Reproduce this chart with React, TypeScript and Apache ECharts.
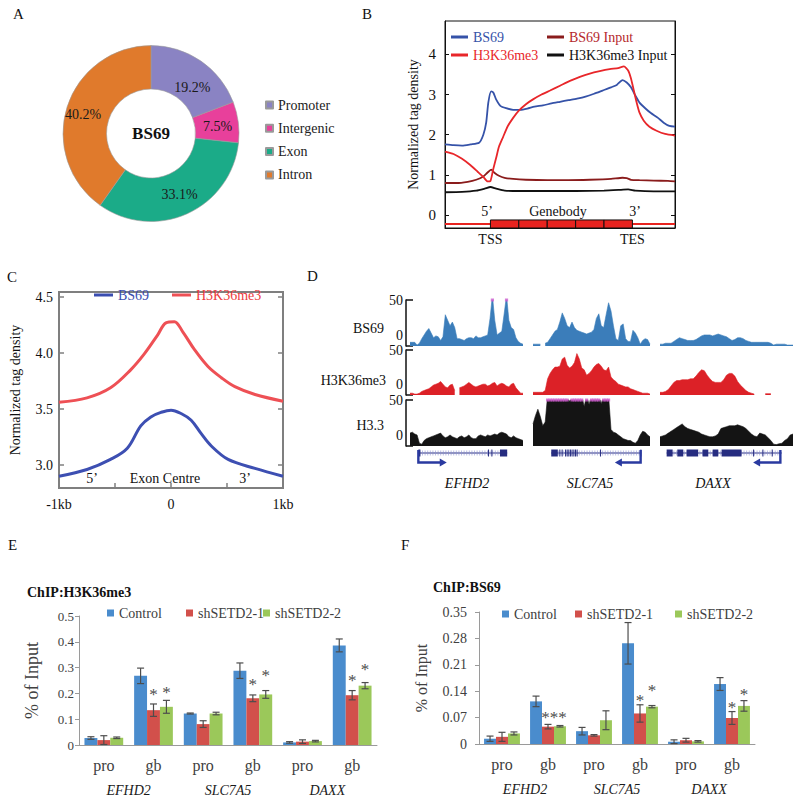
import React, { useEffect, useRef } from 'react';
import * as echarts from 'echarts';

const SERIF = 'Liberation Serif';

// ---------------- Panel A: genomic distribution ----------------
const regionNames = ['Promoter', 'Intergenic', 'Exon', 'Intron'];
const regionPercent = [19.2, 7.5, 33.1, 40.2];
const regionColors = ['#8a83c3', '#e8409b', '#1bab88', '#e07a2c'];
const regionLabelOffsets = [[2, 11], [-2, 2], [0, -2], [-2, 2]];

// ---------------- Panel B: metagene profile ----------------
const bBS69 = [[-32,1.76],[-26,1.74],[-20,1.73],[-14,1.76],[-8,1.8],[-5,2.0],[-3,2.3],[-1.5,2.8],[0.5,3.08],[2,3.05],[4,2.88],[7,2.72],[11,2.66],[16,2.62],[21,2.62],[26,2.65],[31,2.7],[37,2.73],[43,2.78],[49,2.82],[55,2.86],[61,2.9],[67,2.95],[73,3.02],[79,3.1],[85,3.18],[89,3.24],[93,3.36],[96,3.3],[99,3.18],[102,2.98],[105,2.8],[109,2.66],[113,2.54],[118,2.42],[122,2.3],[126,2.22],[130,2.2]];
const bH3K36me3 = [[-32,1.58],[-26,1.52],[-20,1.4],[-14,1.24],[-9,1.08],[-5,0.95],[-2,0.84],[0,0.85],[2,1.15],[4,1.42],[6,1.7],[9,1.95],[12,2.2],[16,2.42],[20,2.6],[25,2.76],[30,2.88],[36,3.0],[42,3.1],[49,3.22],[56,3.34],[63,3.44],[70,3.52],[77,3.58],[84,3.63],[90,3.66],[94,3.7],[97,3.6],[99,3.4],[101,3.1],[103,2.8],[105,2.55],[108,2.35],[112,2.2],[117,2.1],[123,2.02],[130,1.98]];
const bBS69Input = [[-32,0.8],[-24,0.8],[-16,0.83],[-10,0.88],[-5,0.96],[-2,1.06],[0.5,1.13],[3,1.05],[6,0.98],[10,0.93],[16,0.9],[25,0.88],[40,0.87],[55,0.87],[70,0.88],[85,0.9],[93,0.93],[96,0.92],[99,0.88],[105,0.87],[115,0.86],[125,0.85],[130,0.84]];
const bH3K36me3Input = [[-32,0.57],[-20,0.58],[-10,0.61],[-4,0.66],[0,0.7],[4,0.66],[10,0.61],[20,0.6],[40,0.6],[60,0.6],[80,0.61],[92,0.63],[97,0.64],[102,0.61],[115,0.59],[130,0.59]];
const bGeneAxisLine = [[-32,-0.22],[130,-0.22]];
const bGeneBodyBlocks = [[0,20],[20,40],[40,60],[60,80],[80,100]];
const bXLabelValues = [0, 100];
const bXLabelTexts = ['TSS', 'TES'];
const bYTicks = [0, 1, 2, 3, 4];

// ---------------- Panel C: exon-centred profile ----------------
const cH3K36me3 = [[-1000,3.56],[-750,3.6],[-540,3.69],[-360,3.85],[-240,3.99],[-120,4.16],[-45,4.27],[30,4.28],[105,4.19],[210,4.03],[330,3.88],[450,3.78],[570,3.7],[750,3.63],[1000,3.57]];
const cBS69 = [[-1000,2.9],[-750,2.96],[-540,3.05],[-390,3.15],[-270,3.35],[-180,3.43],[-90,3.47],[0,3.49],[90,3.46],[180,3.4],[270,3.28],[360,3.17],[510,3.05],[750,2.97],[1000,2.9]];
const cXLabelValues = [-1000, 0, 1000];
const cXLabelTexts = ['-1kb', '0', '1kb'];
const cYTicks = [3.0, 3.5, 4.0, 4.5];

// ---------------- Panel D: browser tracks ----------------
const trackNames = ['BS69', 'H3K36me3', 'H3.3'];
const geneNames = ['EFHD2', 'SLC7A5', 'DAXX'];
const efhd2BS69 = [4,4,4,1,3,8,12,16,19,14,9,11,10,6,10,34,28,22,26,20,8,8,7,6,8,9,9,8,11,9,9,10,11,12,30,55,28,12,14,16,35,55,28,20,18,9,5,3,2];
const efhd2H3K36me3 = [2,2,1,1,2,4,5,6,7,9,11,12,13,15,12,9,8,11,12,5,null,8,9,10,12,14,12,10,9,10,11,12,12,10,11,13,14,10,12,13,12,10,9,12,13,8,5,2,2];
const efhd2H33 = [14,15,13,12,3,2,6,8,9,10,11,12,13,14,11,9,10,12,10,9,8,10,11,9,10,12,9,8,8,11,12,11,10,12,11,12,13,12,14,15,14,13,10,9,11,9,8,7,6];
const slc7a5BS69 = [2,2,2,2,null,3,4,8,12,16,18,26,36,30,22,20,26,20,17,16,15,14,13,14,15,18,30,35,22,20,34,47,38,22,8,6,22,24,8,5,5,17,14,9,2,6,8,7,2];
const slc7a5H3K36me3 = [3,3,3,3,3,5,18,24,28,31,31,32,40,42,33,30,32,36,46,40,30,28,22,24,27,31,34,35,32,28,27,31,20,17,15,12,11,10,9,9,7,6,5,4,3,2,2,2,1];
const slc7a5H33 = [24,33,40,32,22,26,55,55,55,55,55,55,55,55,55,48,55,55,55,55,55,43,55,45,55,55,55,55,46,55,55,55,18,15,14,12,10,8,7,6,6,4,3,6,12,16,15,12,10];
const daxxBS69 = [2,2,3,3,3,5,7,9,8,7,6,6,6,7,9,11,12,12,12,11,12,13,12,11,10,8,6,7,9,9,8,6,5,4,4,4,4,4,4,4,3,1,2,2,2,2,1,1,1];
const daxxH3K36me3 = [3,3,4,6,10,14,16,16,17,17,17,18,18,21,25,28,27,22,18,15,14,14,14,17,22,24,24,21,15,11,8,5,3,2,1,null,null,null,1.5,1.5,1.5,null,null,null,null,null,null,null,null];
const daxxH33 = [10,11,12,14,16,18,20,22,24,21,19,18,17,16,15,13,12,11,10,10,11,13,19,20,21,22,22,22,23,22,21,19,16,13,11,10,14,13,12,9,6,2,1.5,2.5,3,6,8,12,13];
const trackData = [
  [efhd2BS69, slc7a5BS69, daxxBS69],
  [efhd2H3K36me3, slc7a5H3K36me3, daxxH3K36me3],
  [efhd2H33, slc7a5H33, daxxH33],
];
const trackMax = 50;
// gene models, positions in % of each gene window
const geneSpans = [[7, 86], [15.6, 92.5], [5, 91.5]];
const geneTssArrow = [[7.4, 32.5], [92, 70], [90.5, 70]];
const geneExons = [
  [[7.4, 9.2], [69, 69.8], [72, 72.8], [79.6, 86]],
  [[15.6, 21.2], [22.5, 23.1], [24.5, 25.1], [27.4, 28], [28.8, 29.4], [30.2, 30.8], [31.6, 32.2], [33, 33.6], [34.5, 35.1], [35.9, 36.5], [37.3, 37.9], [57.3, 57.9], [91.8, 92.5]],
  [[5, 9.5], [13, 17.5], [20, 28.7], [32, 36.3], [39.6, 43.8], [46.3, 61.3], [70, 70.5], [77, 77.5], [84, 84.5]],
];

// ---------------- Panels E & F: ChIP-qPCR ----------------
const qpcrRegions = ['pro', 'gb', 'pro', 'gb', 'pro', 'gb'];
const qpcrGenes = ['EFHD2', 'SLC7A5', 'DAXX'];
const qpcrGroups = ['Control', 'shSETD2-1', 'shSETD2-2'];
const eControl = [0.027, 0.268, 0.122, 0.288, 0.010, 0.386];
const eSh1 = [0.019, 0.135, 0.081, 0.181, 0.013, 0.193];
const eSh2 = [0.028, 0.148, 0.122, 0.196, 0.015, 0.230];
const eControlErr = [0.005, 0.030, 0.002, 0.030, 0.003, 0.025];
const eSh1Err = [0.017, 0.024, 0.013, 0.013, 0.007, 0.018];
const eSh2Err = [0.003, 0.025, 0.005, 0.015, 0.003, 0.012];
const eStarPos = [[1, 1, 0.206], [1, 2, 0.217], [3, 1, 0.247], [3, 2, 0.282], [5, 1, 0.260], [5, 2, 0.305]];
const eStarText = ['*', '*', '*', '*', '*', '*'];
const fControl = [0.014, 0.113, 0.034, 0.267, 0.006, 0.159];
const fSh1 = [0.019, 0.046, 0.023, 0.081, 0.010, 0.069];
const fSh2 = [0.028, 0.047, 0.063, 0.099, 0.007, 0.101];
const fControlErr = [0.007, 0.014, 0.010, 0.055, 0.005, 0.017];
const fSh1Err = [0.012, 0.006, 0.002, 0.023, 0.005, 0.017];
const fSh2Err = [0.004, 0.002, 0.025, 0.003, 0.002, 0.014];
const fStarPos = [[1, 1.5, 0.079], [3, 1, 0.123], [3, 2, 0.150], [5, 1, 0.105], [5, 2, 0.140]];
const fStarText = ['***', '*', '*', '*', '*'];

// ---------------- styling ----------------
const BAR_COLORS = ['#4a8ccd', '#d2504b', '#9bc85a'];
const TRACK_COLORS = ['#3b7dba', '#dc2127', '#141414'];
const NAVY = '#262c80';
const BAR_CAT_GAP = 0.22;

function txt(text: string, x: number, y: number, o: any = {}) {
  return {
    type: 'text', x, y, silent: true, z: 100,
    style: {
      text, fontFamily: SERIF, fontSize: o.size || 14, fontWeight: o.weight || 'normal',
      fontStyle: o.style || 'normal', fill: o.color || '#111', align: o.align || 'center',
      verticalAlign: 'middle',
    },
  };
}

function lg(name: string, left: number, top: number, o: any) {
  const item: any = { name };
  if (o.itemColor) item.itemStyle = { color: o.itemColor };
  return {
    data: [item], left, top, padding: 0, selectedMode: false, icon: 'rect',
    itemWidth: o.w, itemHeight: o.h,
    textStyle: { fontFamily: SERIF, fontSize: 14, color: o.color || '#222' },
  };
}

function buildOption() {
  const grid: any[] = [];
  const xAxis: any[] = [];
  const yAxis: any[] = [];
  const series: any[] = [];
  const legend: any[] = [];
  const graphic: any[] = [];

  // ---- A ----
  series.push({
    type: 'pie', center: [151, 133.5], radius: [44.5, 88], startAngle: 90, clockwise: true,
    silent: true, avoidLabelOverlap: false,
    label: { show: true, position: 'inside', formatter: '{c}%', fontFamily: SERIF, fontSize: 14, color: '#1a1a1a' },
    labelLine: { show: false },
    itemStyle: { borderColor: '#9a9a9a', borderWidth: 0.6 },
    data: regionNames.map((n, i) => ({
      name: n, value: regionPercent[i], itemStyle: { color: regionColors[i] },
      label: { offset: regionLabelOffsets[i] },
    })),
  });
  regionNames.forEach((n, i) => legend.push(lg(n, 265, 98 + i * 23.3, { w: 7, h: 7, color: '#222' })));
  graphic.push(txt('BS69', 151, 133.5, { size: 17, weight: 'bold' }));

  // ---- B (grid 0) ----
  grid.push({ left: 445, top: 21, width: 230, height: 207, show: true, borderColor: '#111', borderWidth: 1 });
  xAxis.push({
    gridIndex: 0, type: 'value', min: -32, max: 130,
    axisLine: { onZero: false, lineStyle: { color: '#111' } }, axisTick: { show: false }, splitLine: { show: false },
    axisLabel: { customValues: bXLabelValues, formatter: (v: number) => bXLabelTexts[bXLabelValues.indexOf(v)] ?? '', fontFamily: SERIF, fontSize: 14, color: '#111', margin: 4 },
  });
  yAxis.push({
    gridIndex: 0, type: 'value', min: -0.32, max: 4.83,
    name: 'Normalized tag density', nameLocation: 'middle', nameGap: 25,
    nameTextStyle: { fontFamily: SERIF, fontSize: 14, color: '#111' },
    axisLine: { show: true, onZero: false, lineStyle: { color: '#111' } },
    axisTick: { show: true, inside: true, length: 4, customValues: bYTicks, lineStyle: { color: '#111' } },
    axisLabel: { customValues: bYTicks, fontFamily: SERIF, fontSize: 15, color: '#111', margin: 9 },
    splitLine: { show: false },
  });
  yAxis.push({
    gridIndex: 0, type: 'value', min: -0.32, max: 4.83, position: 'right',
    axisLine: { show: true, onZero: false, lineStyle: { color: '#111' } },
    axisTick: { show: true, inside: true, length: 4, customValues: bYTicks, lineStyle: { color: '#111' } },
    axisLabel: { show: false }, splitLine: { show: false },
  });
  const bLine = (name: string, data: any, color: string) => ({
    type: 'line', name, xAxisIndex: 0, yAxisIndex: 0, data, symbol: 'none', smooth: 0.2,
    lineStyle: { width: 1.8, color }, itemStyle: { color }, z: 3,
  });
  series.push(bLine('BS69', bBS69, '#3552a8'));
  series.push(bLine('BS69 Input', bBS69Input, '#8a1c1c'));
  series.push(bLine('H3K36me3 Input', bH3K36me3Input, '#111111'));
  series.push(bLine('H3K36me3', bH3K36me3, '#e8262a'));
  series.push({
    type: 'line', name: 'gene axis', xAxisIndex: 0, yAxisIndex: 0, data: bGeneAxisLine, symbol: 'none',
    lineStyle: { width: 2, color: '#e8231f' }, z: 2,
  });
  series.push({
    type: 'custom', name: 'genebody', xAxisIndex: 0, yAxisIndex: 0, data: bGeneBodyBlocks, z: 4,
    encode: { x: [0, 1] },
    renderItem: (p: any, api: any) => {
      const a = api.coord([api.value(0), -0.12]);
      const b = api.coord([api.value(1), -0.32]);
      return { type: 'rect', shape: { x: a[0], y: a[1], width: b[0] - a[0], height: b[1] - a[1] }, style: { fill: '#e8231f', stroke: '#111', lineWidth: 1 } };
    },
  });
  legend.push(lg('BS69', 451, 30, { w: 17, h: 3, color: '#3552a8' }));
  legend.push(lg('BS69 Input', 547, 30, { w: 17, h: 3, color: '#b5282c' }));
  legend.push(lg('H3K36me3', 451, 48, { w: 17, h: 3, color: '#e8262a' }));
  legend.push(lg('H3K36me3 Input', 547, 48, { w: 17, h: 3, color: '#111' }));
  graphic.push(txt('5’', 487, 211));
  graphic.push(txt('Genebody', 558, 211));
  graphic.push(txt('3’', 635, 211));

  // ---- C (grid 1) ----
  grid.push({ left: 59, top: 292, width: 224, height: 196, show: true, borderColor: '#7f7f7f', borderWidth: 2 });
  xAxis.push({
    gridIndex: 1, type: 'value', min: -1000, max: 1000, interval: 500,
    axisLine: { onZero: false, lineStyle: { color: '#7f7f7f', width: 2 } },
    axisTick: { show: true, inside: true, length: 5, lineStyle: { color: '#7f7f7f', width: 1.5 } },
    axisLabel: { formatter: (v: number) => cXLabelTexts[cXLabelValues.indexOf(v)] ?? '', fontFamily: SERIF, fontSize: 14, color: '#111', margin: 9, showMinLabel: true, showMaxLabel: true },
    splitLine: { show: false },
  });
  yAxis.push({
    gridIndex: 1, type: 'value', min: 2.795, max: 4.545,
    name: 'Normalized tag density', nameLocation: 'middle', nameGap: 37,
    nameTextStyle: { fontFamily: SERIF, fontSize: 14, color: '#111' },
    axisLine: { show: true, onZero: false, lineStyle: { color: '#7f7f7f', width: 2 } },
    axisTick: { show: true, inside: true, length: 5, customValues: cYTicks, lineStyle: { color: '#7f7f7f', width: 1.5 } },
    axisLabel: { customValues: cYTicks, formatter: (v: number) => v.toFixed(1), fontFamily: SERIF, fontSize: 14, color: '#111', margin: 6 },
    splitLine: { show: false },
  });
  yAxis.push({
    gridIndex: 1, type: 'value', min: 2.795, max: 4.545, position: 'right',
    axisLine: { show: true, onZero: false, lineStyle: { color: '#7f7f7f', width: 2 } },
    axisTick: { show: true, inside: true, length: 5, customValues: cYTicks, lineStyle: { color: '#7f7f7f', width: 1.5 } },
    axisLabel: { show: false }, splitLine: { show: false },
  });
  series.push({ type: 'line', name: 'H3K36me3', xAxisIndex: 1, yAxisIndex: 2, data: cH3K36me3, symbol: 'none', smooth: 0.35, lineStyle: { width: 3, color: '#ee5055' }, itemStyle: { color: '#ee5055' } });
  series.push({ type: 'line', name: 'BS69', xAxisIndex: 1, yAxisIndex: 2, data: cBS69, symbol: 'none', smooth: 0.35, lineStyle: { width: 3, color: '#3d4fb2' }, itemStyle: { color: '#3d4fb2' } });
  legend.push(lg('BS69', 94, 288, { w: 19, h: 3, color: '#3a4db0', itemColor: '#3a4db0' }));
  legend.push(lg('H3K36me3', 172, 288, { w: 19, h: 3, color: '#ec3a40', itemColor: '#ee5055' }));
  graphic.push(txt('5’', 92, 478));
  graphic.push(txt('Exon Centre', 165, 478));
  graphic.push(txt('3’', 245, 478));

  // ---- D tracks ----
  const cols = [{ left: 410, width: 113 }, { left: 533, width: 117 }, { left: 660, width: 133 }];
  const rows = [{ top: 300, height: 46 }, { top: 350, height: 45 }, { top: 400, height: 46 }];
  rows.forEach((r, ri) => {
    cols.forEach((c, ci) => {
      const gi = grid.length;
      grid.push({ left: c.left, top: r.top, width: c.width, height: r.height });
      const xi = xAxis.length;
      xAxis.push({ gridIndex: gi, type: 'value', min: 0, max: 48, show: false });
      const yi = yAxis.length;
      if (ci === 0) {
        yAxis.push({
          gridIndex: gi, type: 'value', min: 0, max: trackMax, interval: trackMax, offset: 4,
          axisLine: { show: true, onZero: false, lineStyle: { color: '#111', width: 1.5 } },
          axisTick: { show: true, inside: true, length: 7, lineStyle: { color: '#111', width: 1.5 } },
          axisLabel: {
            show: true, margin: 3,
            formatter: (v: number) => (v === 0 ? '{z|0}' : '{f|' + v + '}'),
            rich: {
              z: { fontFamily: SERIF, fontSize: 14, color: '#111', padding: [0, 0, 22, 0] },
              f: { fontFamily: SERIF, fontSize: 14, color: '#111' },
            },
          },
          splitLine: { show: false },
        });
      } else {
        yAxis.push({ gridIndex: gi, type: 'value', min: 0, max: trackMax, show: false });
      }
      const vals = trackData[ri][ci];
      const color = TRACK_COLORS[ri];
      series.push({
        type: 'line', name: trackNames[ri] + ' ' + geneNames[ci], xAxisIndex: xi, yAxisIndex: yi,
        data: vals.map((v, i) => [i, v == null ? '-' : v]),
        symbol: 'none', connectNulls: false, clip: true,
        lineStyle: { width: 0.6, color }, areaStyle: { color, opacity: 1 }, itemStyle: { color },
      });
      const clipped = vals.map((v, i) => (v != null && v >= trackMax ? [i, trackMax] : null)).filter(Boolean);
      if (clipped.length) {
        series.push({
          type: 'scatter', name: 'clipped', xAxisIndex: xi, yAxisIndex: yi, data: clipped,
          symbol: 'rect', symbolSize: [3.2, 3], itemStyle: { color: '#cf5fd0' }, z: 5, silent: true,
        });
      }
    });
  });
  graphic.push(txt('BS69', 384, 328, { align: 'right' }));
  graphic.push(txt('H3K36me3', 386, 380, { align: 'right' }));
  graphic.push(txt('H3.3', 384, 425, { align: 'right' }));

  // ---- D gene models ----
  cols.forEach((c, ci) => {
    const gi = grid.length;
    grid.push({ left: c.left, top: 444, width: c.width, height: 18 });
    const xi = xAxis.length;
    xAxis.push({ gridIndex: gi, type: 'value', min: 0, max: 100, show: false });
    const yi = yAxis.length;
    yAxis.push({ gridIndex: gi, type: 'value', min: 0, max: 1, show: false });
    series.push({
      type: 'custom', name: geneNames[ci] + ' model', xAxisIndex: xi, yAxisIndex: yi, silent: true,
      data: [[geneSpans[ci][0], geneSpans[ci][1], geneTssArrow[ci][0], geneTssArrow[ci][1]]],
      encode: { x: [0, 1] },
      renderItem: (p: any, api: any) => {
        const X = (v: number) => api.coord([v, 0.5])[0];
        const yc = api.coord([0, 0.5])[1];
        const s0 = X(api.value(0)), s1 = X(api.value(1));
        const ch: any[] = [];
        ch.push({ type: 'line', shape: { x1: s0, y1: yc, x2: s1, y2: yc }, style: { stroke: NAVY, lineWidth: 1.2 } });
        for (let px = s0 + 2; px < s1 - 1; px += 2.6) {
          ch.push({ type: 'line', shape: { x1: px, y1: yc - 2.5, x2: px, y2: yc + 2.5 }, style: { stroke: '#8c90d2', lineWidth: 0.6 } });
        }
        geneExons[ci].forEach(([a, b]) => {
          const xa = X(a), xb = X(b);
          ch.push({ type: 'rect', shape: { x: xa, y: yc - 3.5, width: Math.max(1, xb - xa), height: 7 }, style: { fill: NAVY } });
        });
        const xt = X(api.value(2)), xe = X(api.value(3));
        const dir = xe > xt ? 1 : -1;
        ch.push({ type: 'polyline', shape: { points: [[xt, yc - 3], [xt, yc + 9.5], [xe - dir * 5, yc + 9.5]] }, style: { stroke: '#2a3aa0', lineWidth: 2.4, fill: null } });
        ch.push({ type: 'polygon', shape: { points: [[xe, yc + 9.5], [xe - dir * 7, yc + 5.5], [xe - dir * 7, yc + 13.5]] }, style: { fill: '#2a3aa0' } });
        return { type: 'group', children: ch };
      },
    });
  });
  graphic.push(txt('EFHD2', 467, 483, { style: 'italic' }));
  graphic.push(txt('SLC7A5', 590, 483, { style: 'italic' }));
  graphic.push(txt('DAXX', 713, 483, { style: 'italic' }));

  // ---- E & F ----
  const errRender = (p: any, api: any) => {
    const cat = api.value(0), pos = api.value(1), v = api.value(2), e = api.value(3);
    const band = api.size([1, 0])[0];
    const bw = (band * (1 - BAR_CAT_GAP)) / 3;
    const x = api.coord([cat, v])[0] + (pos - 1) * bw;
    const yTop = api.coord([cat, v + e])[1];
    const yBot = api.coord([cat, Math.max(0, v - e)])[1];
    const c = 3.5;
    const st = { stroke: '#4d4d4d', lineWidth: 1.2 };
    return {
      type: 'group', children: [
        { type: 'line', shape: { x1: x, y1: yTop, x2: x, y2: yBot }, style: st },
        { type: 'line', shape: { x1: x - c, y1: yTop, x2: x + c, y2: yTop }, style: st },
        { type: 'line', shape: { x1: x - c, y1: yBot, x2: x + c, y2: yBot }, style: st },
      ],
    };
  };
  const barPanel = (cfg: any) => {
    const gi = grid.length;
    grid.push({ left: cfg.left, top: cfg.top, width: cfg.width, height: cfg.height });
    const xi = xAxis.length;
    xAxis.push({
      gridIndex: gi, type: 'category', data: qpcrRegions,
      axisLine: { onZero: false, lineStyle: { color: '#9a9a9a' } }, axisTick: { show: false },
      axisLabel: { fontFamily: SERIF, fontSize: 16, color: '#404040', margin: 12, interval: 0 },
    });
    xAxis.push({
      gridIndex: gi, type: 'category', data: qpcrGenes, position: 'bottom', offset: 25,
      axisLine: { show: false }, axisTick: { show: false },
      axisLabel: { fontFamily: SERIF, fontSize: 14, fontStyle: 'italic', color: '#1a1a1a', margin: 13, interval: 0 },
    });
    const yi = yAxis.length;
    yAxis.push({
      gridIndex: gi, type: 'value', min: 0, max: cfg.max, interval: cfg.interval,
      name: '% of Input', nameLocation: 'middle', nameGap: cfg.nameGap,
      nameTextStyle: { fontFamily: SERIF, fontSize: cfg.nameSize, color: '#404040' },
      axisLine: { show: true, onZero: false, lineStyle: { color: '#9a9a9a' } },
      axisTick: { show: true, length: 4, lineStyle: { color: '#9a9a9a' } },
      axisLabel: { fontFamily: SERIF, fontSize: cfg.labelSize, color: '#404040', margin: cfg.labelMargin },
      splitLine: { show: false },
    });
    cfg.values.forEach((vals: number[], si: number) => {
      series.push({
        type: 'bar', name: qpcrGroups[si], xAxisIndex: xi, yAxisIndex: yi, data: vals,
        barGap: '0%', barCategoryGap: BAR_CAT_GAP * 100 + '%', itemStyle: { color: BAR_COLORS[si] }, silent: true,
      });
    });
    const errData: number[][] = [];
    cfg.values.forEach((vals: number[], si: number) => vals.forEach((v, i) => errData.push([i, si, v, cfg.errors[si][i]])));
    series.push({
      type: 'custom', name: 'error', xAxisIndex: xi, yAxisIndex: yi, data: errData, z: 5, silent: true,
      encode: { x: 0, y: 2 }, renderItem: errRender,
    });
    const starText = cfg.starText;
    series.push({
      type: 'custom', name: 'significance', xAxisIndex: xi, yAxisIndex: yi, data: cfg.stars, z: 6, silent: true,
      encode: { x: 0, y: 2 },
      renderItem: (p: any, api: any) => {
        const cat = api.value(0), pos = api.value(1), v = api.value(2);
        const band = api.size([1, 0])[0];
        const bw = (band * (1 - BAR_CAT_GAP)) / 3;
        const x = api.coord([cat, v])[0] + (pos - 1) * bw;
        const y = api.coord([cat, v])[1] + 3;
        return { type: 'text', x, y, style: { text: starText[p.dataIndex], align: 'center', verticalAlign: 'middle', fontFamily: SERIF, fontSize: 17, fill: '#4d4d4d' } };
      },
    });
  };
  barPanel({
    left: 79, top: 616, width: 298, height: 129, max: 0.5, interval: 0.1, nameGap: 38, nameSize: 18,
    labelSize: 13, labelMargin: 5,
    values: [eControl, eSh1, eSh2], errors: [eControlErr, eSh1Err, eSh2Err], stars: eStarPos, starText: eStarText,
  });
  barPanel({
    left: 479, top: 612, width: 276, height: 132, max: 0.35, interval: 0.07, nameGap: 50, nameSize: 16,
    labelSize: 14, labelMargin: 12,
    values: [fControl, fSh1, fSh2], errors: [fControlErr, fSh1Err, fSh2Err], stars: fStarPos, starText: fStarText,
  });
  [107, 186, 263].forEach((l, i) => legend.push(lg(qpcrGroups[i], l, 606, { w: 7, h: 7, color: '#404040' })));
  [502, 575, 675].forEach((l, i) => legend.push(lg(qpcrGroups[i], l, 607, { w: 7, h: 7, color: '#404040' })));
  graphic.push(txt('ChIP:H3K36me3', 27, 592, { align: 'left', weight: 'bold' }));
  graphic.push(txt('ChIP:BS69', 433, 587, { align: 'left', weight: 'bold' }));

  // panel letters
  graphic.push(txt('A', 13, 14, { align: 'left', size: 15 }));
  graphic.push(txt('B', 362, 14, { align: 'left', size: 15 }));
  graphic.push(txt('C', 7, 277, { align: 'left', size: 15 }));
  graphic.push(txt('D', 307, 276, { align: 'left', size: 15 }));
  graphic.push(txt('E', 8, 545, { align: 'left', size: 15 }));
  graphic.push(txt('F', 401, 545, { align: 'left', size: 15 }));

  return {
    animation: false,
    backgroundColor: '#ffffff',
    textStyle: { fontFamily: SERIF },
    tooltip: { show: false },
    grid, xAxis, yAxis, legend, series, graphic,
  };
}

export default function App() {
  const ref = useRef<HTMLDivElement>(null);
  useEffect(() => {
    if (!ref.current) return;
    const chart = echarts.init(ref.current, null, { renderer: 'svg' });
    chart.setOption(buildOption() as any);
    return () => chart.dispose();
  }, []);
  return <div ref={ref} style={{ position: 'absolute', left: 0, top: 0, width: 800, height: 802, background: '#fff' }} />;
}
